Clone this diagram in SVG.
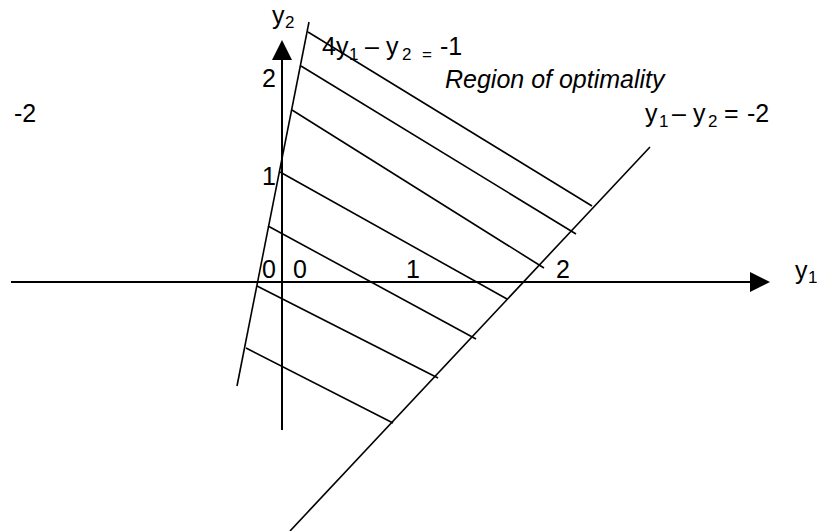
<svg xmlns="http://www.w3.org/2000/svg" width="822" height="531" viewBox="0 0 822 531">
<defs>
<style>
.ln{stroke:#000;stroke-width:1.6;fill:none}
.ax{stroke:#000;stroke-width:2;fill:none}
text{font-family:"Liberation Sans",Arial,sans-serif;font-size:25px;fill:#000}
.sub{font-size:17px}
.it{font-style:italic}
</style>
<marker id="arr" viewBox="0 -10 20 20" refX="0" refY="0" markerWidth="20" markerHeight="20" markerUnits="userSpaceOnUse" orient="auto" overflow="visible">
<path d="M0,-10 L20,0 L0,10 Z" fill="#000"/>
</marker>
</defs>
<rect width="822" height="531" fill="#fff"/>
<g id="axes">
<line class="ax" x1="11" y1="282" x2="750" y2="282" marker-end="url(#arr)"/>
<line class="ax" x1="282" y1="430" x2="282" y2="60" marker-end="url(#arr)"/>
</g>
<g id="constraints">
<line class="ln" x1="237" y1="386" x2="309" y2="22"/>
<line class="ln" x1="290" y1="531" x2="650" y2="147"/>
</g>
<g id="hatching">
<line class="ln" x1="308" y1="32" x2="592" y2="206"/>
<line class="ln" x1="301" y1="66" x2="576" y2="234"/>
<line class="ln" x1="292" y1="110" x2="544" y2="268"/>
<line class="ln" x1="280" y1="172" x2="507" y2="299"/>
<line class="ln" x1="268" y1="226" x2="476" y2="339"/>
<line class="ln" x1="257" y1="286" x2="438" y2="378"/>
<line class="ln" x1="246" y1="348" x2="393" y2="423"/>
</g>
<g id="labels">
<text x="272" y="24">y<tspan class="sub" x="285" y="28">2</tspan></text>
<text x="322" y="55">4y<tspan class="sub" x="349" y="60">1</tspan><tspan x="365" y="55">–</tspan><tspan x="386" y="55">y</tspan><tspan class="sub" x="402" y="60">2</tspan><tspan class="sub" x="422" y="60">=</tspan><tspan x="440" y="55">-1</tspan></text>
<text class="it" x="445" y="88">Region of optimality</text>
<text x="645" y="122">y<tspan class="sub" x="659" y="127">1</tspan><tspan x="672" y="122">–</tspan><tspan x="693" y="122">y</tspan><tspan class="sub" x="708" y="127">2</tspan><tspan x="724" y="122">=</tspan><tspan x="747" y="122">-2</tspan></text>
<text x="14" y="122">-2</text>
<text x="262" y="87">2</text>
<text x="262" y="185">1</text>
<text x="262" y="278">0</text>
<text x="293" y="278">0</text>
<text x="406" y="278">1</text>
<text x="556" y="278">2</text>
<text x="795" y="279">y<tspan class="sub" x="808" y="283">1</tspan></text>
</g>
</svg>
